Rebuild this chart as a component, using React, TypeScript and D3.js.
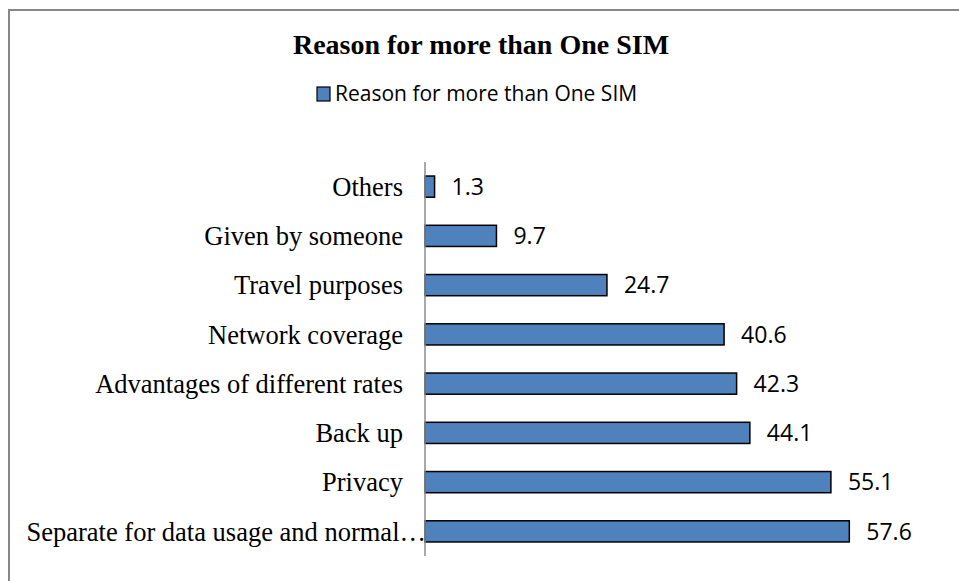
import React from "react";
import * as d3 from "d3";

const categories = [
  "Others",
  "Given by someone",
  "Travel purposes",
  "Network coverage",
  "Advantages of different rates",
  "Back up",
  "Privacy",
  "Separate for data usage and normal…",
];
const values = [1.3, 9.7, 24.7, 40.6, 42.3, 44.1, 55.1, 57.6];
const title = "Reason for more than One SIM";
const seriesName = "Reason for more than One SIM";

const W = 959;
const H = 581;

export default function App() {
  const x = d3.scaleLinear().domain([0, 60]).range([425, 867]);
  const y = d3.scaleBand<string>().domain(categories).range([162, 556]).paddingInner(0.57).paddingOuter(0.285);
  const bh = y.bandwidth();
  return (
    <svg width={W} height={H} style={{ position: "absolute", left: 0, top: 0, background: "#fff" }}>
      <rect x={9} y={10} width={970} height={620} fill="#fff" stroke="#878787" strokeWidth={2} />
      <text x={481} y={54} textAnchor="middle" fontFamily="Liberation Serif" fontWeight="bold" fontSize={28} fill="#000">
        {title}
      </text>
      <rect x={317} y={87} width={13} height={14} fill="#4F81BD" stroke="#000" strokeWidth={1.2} />
      <text x={335} y={101} fontFamily="Open Sans" fontSize={21} fill="#000">
        {seriesName}
      </text>
      {categories.map((c, i) => {
        const yc = (y(c) as number) + bh / 2;
        const last = i === categories.length - 1;
        return (
          <g key={c}>
            <rect x={x(0)} y={y(c)} width={x(values[i]) - x(0)} height={bh} fill="#4F81BD" stroke="#000" strokeWidth={1.5} />
            <text x={last ? 426 : 403} y={yc} dy="0.35em" textAnchor="end" fontFamily="Liberation Serif" fontSize={26.5} fill="#000">
              {c}
            </text>
            <text x={x(values[i]) + 17} y={yc} dy="0.36em" fontFamily="Open Sans" fontSize={23} fill="#000">
              {values[i].toFixed(1)}
            </text>
          </g>
        );
      })}
      <line x1={425} x2={425} y1={162} y2={556} stroke="#8c8c8c" strokeWidth={1.5} />
    </svg>
  );
}
